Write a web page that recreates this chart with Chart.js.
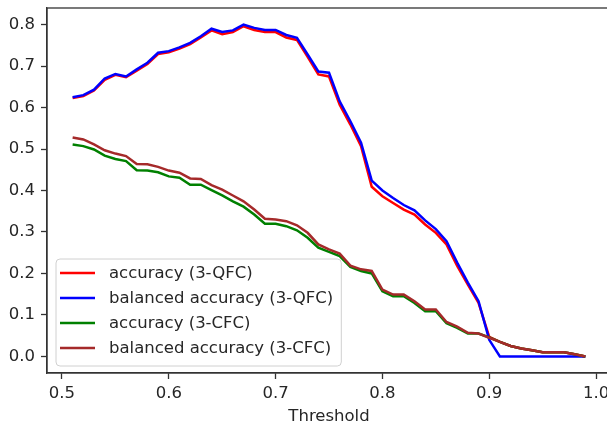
<!DOCTYPE html>
<html>
<head>
<meta charset="utf-8">
<script src="https://cdn.jsdelivr.net/npm/chart.js@4/dist/chart.umd.min.js"></script>
<style>
  html, body { margin: 0; padding: 0; background: #fff; overflow: hidden; }
  #wrap { width: 612px; height: 425px; }
</style>
</head>
<body>
<div id="wrap"><canvas id="thresholdChart" width="612" height="425"></canvas></div>
<script>
// threshold sweep
const thresholds = [0.51, 0.52, 0.53, 0.54, 0.55, 0.56, 0.57, 0.58, 0.59, 0.60,
  0.61, 0.62, 0.63, 0.64, 0.65, 0.66, 0.67, 0.68, 0.69, 0.70,
  0.71, 0.72, 0.73, 0.74, 0.75, 0.76, 0.77, 0.78, 0.79, 0.80,
  0.81, 0.82, 0.83, 0.84, 0.85, 0.86, 0.87, 0.88, 0.89, 0.90,
  0.91, 0.92, 0.93, 0.94, 0.95, 0.96, 0.97, 0.98, 0.99];

const accQFC = [0.623, 0.628, 0.641, 0.667, 0.679, 0.673, 0.689, 0.705, 0.729, 0.733,
  0.742, 0.753, 0.769, 0.786, 0.777, 0.782, 0.796, 0.787, 0.782, 0.782,
  0.769, 0.763, 0.722, 0.680, 0.675, 0.607, 0.559, 0.507, 0.409, 0.386,
  0.370, 0.354, 0.342, 0.318, 0.298, 0.270, 0.218, 0.173, 0.129, 0.047,
  0.035, 0.025, 0.019, 0.015, 0.010, 0.010, 0.010, 0.005, 0.000];

const balAccQFC = [0.625, 0.630, 0.643, 0.670, 0.681, 0.675, 0.692, 0.708, 0.732, 0.736,
  0.745, 0.756, 0.772, 0.790, 0.782, 0.786, 0.800, 0.792, 0.787, 0.787,
  0.775, 0.768, 0.728, 0.687, 0.684, 0.615, 0.567, 0.515, 0.424, 0.400,
  0.382, 0.365, 0.352, 0.328, 0.307, 0.278, 0.226, 0.178, 0.133, 0.040,
  0.000, 0.000, 0.000, 0.000, 0.000, 0.000, 0.000, 0.000, 0.000];

const accCFC = [0.511, 0.507, 0.499, 0.484, 0.476, 0.471, 0.449, 0.448, 0.444, 0.434,
  0.431, 0.414, 0.414, 0.401, 0.388, 0.374, 0.361, 0.342, 0.320, 0.320,
  0.314, 0.304, 0.286, 0.262, 0.252, 0.242, 0.216, 0.206, 0.200, 0.157,
  0.145, 0.145, 0.129, 0.109, 0.109, 0.080, 0.069, 0.055, 0.055, 0.046,
  0.035, 0.025, 0.019, 0.015, 0.010, 0.010, 0.010, 0.005, 0.000];

const balAccCFC = [0.528, 0.523, 0.511, 0.497, 0.489, 0.483, 0.464, 0.463, 0.457, 0.448,
  0.443, 0.429, 0.428, 0.413, 0.402, 0.388, 0.374, 0.354, 0.332, 0.330,
  0.326, 0.316, 0.298, 0.270, 0.258, 0.248, 0.219, 0.210, 0.206, 0.161,
  0.149, 0.149, 0.133, 0.113, 0.113, 0.083, 0.072, 0.057, 0.055, 0.045,
  0.035, 0.025, 0.019, 0.015, 0.010, 0.010, 0.010, 0.005, 0.000];

const xTickValues = [0.5, 0.6, 0.7, 0.8, 0.9, 1.0];
const yTickValues = [0.0, 0.1, 0.2, 0.3, 0.4, 0.5, 0.6, 0.7, 0.8];

const FONT = "'DejaVu Sans', sans-serif";
const INK = '#262626';

const toPoints = arr => thresholds.map((t, i) => ({ x: t, y: arr[i] }));

function lineSet(label, values, color, order) {
  return {
    label: label,
    data: toPoints(values),
    borderColor: color,
    backgroundColor: color,
    borderWidth: 2.5,
    pointRadius: 0,
    tension: 0,
    fill: false,
    order: order
  };
}

// matplotlib-style frame round the plot area
const frameBox = {
  id: 'frameBox',
  afterDraw(chart) {
    const { ctx, chartArea: a } = chart;
    ctx.save();
    ctx.strokeStyle = '#333';
    ctx.lineWidth = 1.3;
    ctx.strokeRect(a.left, a.top, a.right - a.left, a.bottom - a.top);
    ctx.restore();
  }
};

// legend boxed inside the lower left corner
const innerLegend = {
  id: 'innerLegend',
  afterDatasetsDraw(chart) {
    const { ctx, chartArea: a } = chart;
    const sets = chart.data.datasets;
    ctx.save();
    ctx.font = '16.5px ' + FONT;
    const textW = Math.max(...sets.map(s => ctx.measureText(s.label).width));
    const x0 = a.left + 9;
    const rowH = 25;
    const h = 107;
    const y0 = a.bottom - 7 - h;
    const w = 53 + textW + 8;

    ctx.beginPath();
    ctx.roundRect(x0, y0, w, h, 4);
    ctx.fillStyle = 'rgba(255,255,255,0.8)';
    ctx.fill();
    ctx.strokeStyle = '#d0d0d0';
    ctx.lineWidth = 1;
    ctx.stroke();

    sets.forEach((s, i) => {
      const cy = y0 + 14 + i * rowH;
      ctx.beginPath();
      ctx.moveTo(x0 + 4, cy);
      ctx.lineTo(x0 + 39, cy);
      ctx.strokeStyle = s.borderColor;
      ctx.lineWidth = 2.5;
      ctx.stroke();
      ctx.fillStyle = INK;
      ctx.textBaseline = 'middle';
      ctx.fillText(s.label, x0 + 53, cy + 1);
    });
    ctx.restore();
  }
};

const ctx = document.getElementById('thresholdChart').getContext('2d');
new Chart(ctx, {
  type: 'line',
  data: {
    datasets: [
      lineSet('accuracy (3-QFC)', accQFC, '#ff0000', 3),
      lineSet('balanced accuracy (3-QFC)', balAccQFC, '#0000ff', 2),
      lineSet('accuracy (3-CFC)', accCFC, '#008000', 1),
      lineSet('balanced accuracy (3-CFC)', balAccCFC, '#a52a2a', 0)
    ]
  },
  options: {
    responsive: false,
    animation: false,
    devicePixelRatio: 1,
    layout: { padding: { top: 8, right: 1, left: 0, bottom: 0 } },
    plugins: {
      legend: { display: false },
      tooltip: { enabled: false }
    },
    scales: {
      x: {
        type: 'linear',
        min: 0.486,
        max: 1.014,
        afterBuildTicks: scale => { scale.ticks = xTickValues.map(v => ({ value: v })); },
        afterFit: scale => {
          scale.height = 52;
          scale.paddingLeft = 0;
          scale.paddingRight = 0;
        },
        ticks: {
          callback: v => v.toFixed(1),
          font: { family: FONT, size: 16.5 },
          color: INK,
          padding: 5,
          maxRotation: 0,
          autoSkip: false
        },
        grid: { drawOnChartArea: false, drawTicks: true, tickLength: 6, tickWidth: 1.3, tickColor: '#333' },
        border: { display: true, color: '#333', width: 1.3 },
        title: {
          display: true,
          text: 'Threshold',
          font: { family: FONT, size: 16.5, lineHeight: 1.0 },
          color: INK,
          padding: { top: 0, bottom: 0 }
        }
      },
      y: {
        type: 'linear',
        min: -0.04,
        max: 0.84,
        afterBuildTicks: scale => { scale.ticks = yTickValues.map(v => ({ value: v })); },
        afterFit: scale => {
          scale.width = 47;
          scale.paddingTop = 0;
          scale.paddingBottom = 0;
        },
        ticks: {
          callback: v => v.toFixed(1),
          font: { family: FONT, size: 16.5 },
          color: INK,
          padding: 6,
          autoSkip: false
        },
        grid: { drawOnChartArea: false, drawTicks: true, tickLength: 6, tickWidth: 1.3, tickColor: '#333' },
        border: { display: true, color: '#333', width: 1.3 }
      }
    }
  },
  plugins: [frameBox, innerLegend]
});
</script>
</body>
</html>
